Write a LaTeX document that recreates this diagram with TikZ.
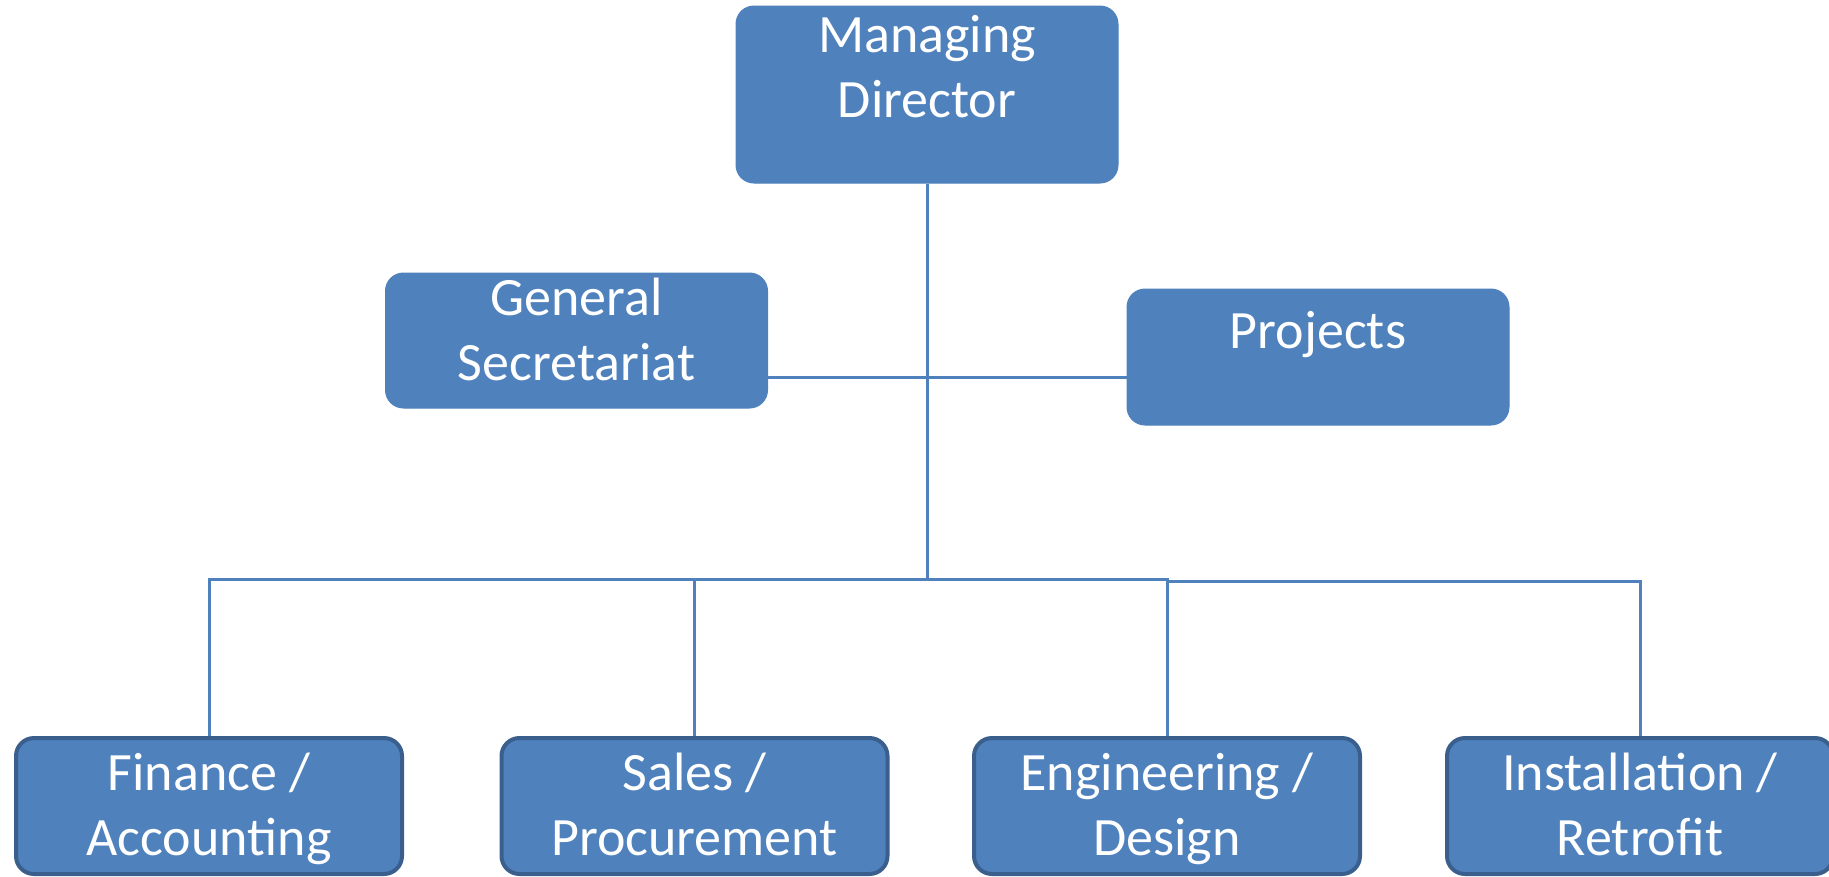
\documentclass[tikz,border=0pt]{standalone}
\usepackage{fontspec}
\setmainfont{Carlito}
\definecolor{boxblue}{HTML}{4F81BD}
\definecolor{boxedge}{HTML}{3A5F8C}
\begin{document}
\begin{tikzpicture}[x=1pt,y=-1pt,
  topbox/.style={fill=boxblue, draw=boxblue, line width=1pt, rounded corners=18pt, inner sep=0pt, minimum width=382pt},
  botbox/.style={fill=boxblue, draw=boxedge, line width=4pt, rounded corners=18pt, inner sep=0pt, minimum width=386pt, minimum height=136pt},
  lbl/.style={text=white, font=\fontsize{54}{65}\selectfont, align=center, inner sep=0pt, anchor=base},
  link/.style={draw=boxblue, line width=3pt}]
\useasboundingbox (0,0) rectangle (1829,876);
% boxes
\node[topbox, minimum height=177pt] (md) at (927,94.5) {};
\node[topbox, minimum height=135pt] (gs) at (576.5,340.5) {};
\node[topbox, minimum height=136pt] (pj) at (1318,357) {};
\node[botbox] (fin) at (209,806) {};
\node[botbox] (sal) at (694.5,806) {};
\node[botbox] (eng) at (1167,806) {};
\node[botbox] (ins) at (1640,806) {};
% labels (base anchor = baseline of last line)
\node[lbl] (mdt) at (927,117) {Managing\\Director};
\node[lbl] (gst) at (576.5,380) {General\\Secretariat};
\node[lbl] (pjt) at (1318,348) {Projects};
\node[lbl] (fint) at (209,855) {Finance /\\Accounting};
\node[lbl] (salt) at (694.5,855) {Sales /\\Procurement};
\node[lbl] (engt) at (1167,855) {Engineering /\\Design};
\node[lbl] (inst) at (1640,855) {Installation /\\Retrofit};
% connectors
\coordinate (j1) at (927,377);
\coordinate (bus) at (927,579);
\coordinate (bus2) at (927,581);
\draw[link] (md.south) -- (bus);
\draw[link] (gs.east |- j1) -- (pj.west |- j1);
\draw[link] (fin.north) -- (fin.north |- bus) -- (eng.north |- bus) -- (eng.north);
\draw[link] (sal.north |- bus) -- (sal.north);
\draw[link] (eng.north |- bus2) -- (ins.north |- bus2) -- (ins.north);
\end{tikzpicture}
\end{document}
